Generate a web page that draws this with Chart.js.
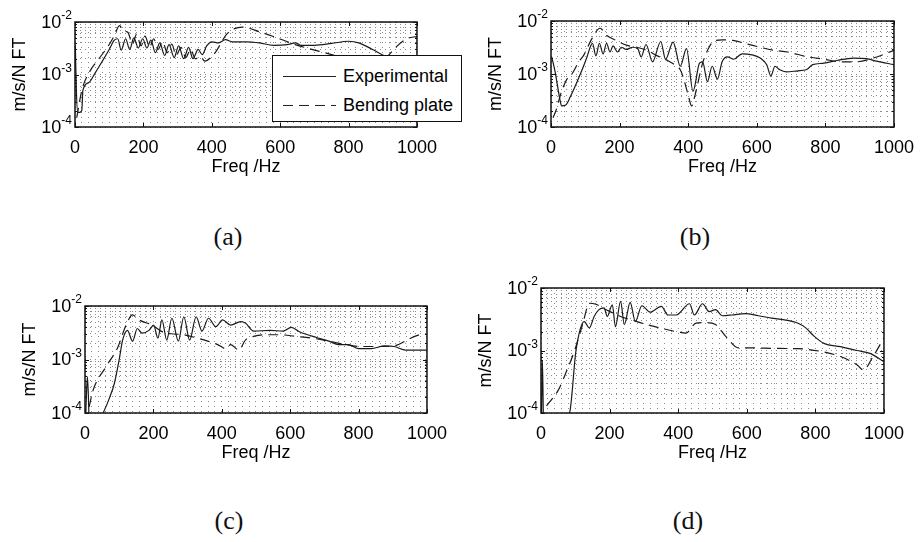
<!DOCTYPE html>
<html>
<head>
<meta charset="utf-8">
<script src="https://cdn.jsdelivr.net/npm/chart.js@4.4.1/dist/chart.umd.min.js"></script>
<style>
  html, body { margin: 0; padding: 0; background: #fff; }
  body { width: 924px; height: 542px; position: relative; overflow: hidden; font-family: "Liberation Sans", Arial, sans-serif; }
  canvas { position: absolute; }
  .cap { position: absolute; font-family: "Liberation Serif", serif; font-size: 26px; transform: translate(-50%, -50%); color: #111; }
  #legend { position: absolute; left: 272px; top: 55px; width: 190px; height: 67px; box-sizing: border-box;
            border: 1.5px solid #111; background: #fff; z-index: 2; font-size: 18px; color: #000; }
  #legend svg { position: absolute; left: 0; top: 0; }
  #legend span { position: absolute; left: 70px; line-height: 20px; }
</style>
</head>
<body>
<canvas id="pa"></canvas>
<canvas id="pb"></canvas>
<canvas id="pc"></canvas>
<canvas id="pd"></canvas>

<div id="legend">
  <svg width="190" height="67">
    <line x1="10" y1="20.5" x2="63" y2="20.5" stroke="#222" stroke-width="1.2"/>
    <line x1="10" y1="49.5" x2="63" y2="49.5" stroke="#222" stroke-width="1.2" stroke-dasharray="10 6"/>
  </svg>
  <span style="top:10px">Experimental</span>
  <span style="top:39px">Bending plate</span>
</div>

<div class="cap" style="left:228px; top:237px">(a)</div>
<div class="cap" style="left:695px; top:237px">(b)</div>
<div class="cap" style="left:229px; top:521px">(c)</div>
<div class="cap" style="left:688px; top:521px">(d)</div>

<script>
// ---- data ----
const yDecades = [-4, -3, -2];            // y tick labels 10^-4 .. 10^-2
const xLabels = [0, 200, 400, 600, 800, 1000];

// (a)
const aExpF = [1, 4, 8, 15, 20, 23, 40, 60, 80, 100, 115, 125, 135, 148, 160, 172, 185, 198, 210, 222, 235, 248, 262, 275, 290, 303, 318, 332, 345, 360, 372, 385, 400, 420, 440, 460, 500, 540, 580, 620, 645, 660, 700, 750, 800, 830, 870, 910, 950, 1000];
const aExp = [3.6e-3, 5e-4, 1.9e-4, 1.9e-4, 2.1e-4, 5e-4, 7e-4, 1.1e-3, 1.8e-3, 3.0e-3, 4.5e-3, 4.8e-3, 2.9e-3, 4.8e-3, 3.0e-3, 5.0e-3, 3.2e-3, 4.8e-3, 3.2e-3, 4.5e-3, 2.6e-3, 4.0e-3, 2.3e-3, 3.7e-3, 2.1e-3, 3.5e-3, 2.0e-3, 3.3e-3, 2.0e-3, 3.0e-3, 2.4e-3, 3.5e-3, 4.2e-3, 4.0e-3, 4.6e-3, 4.2e-3, 4.2e-3, 4.0e-3, 3.6e-3, 3.7e-3, 4.0e-3, 3.6e-3, 3.6e-3, 3.9e-3, 4.3e-3, 4.0e-3, 3.0e-3, 2.2e-3, 1.9e-3, 1.8e-3];
const aBendF = [5, 20, 45, 70, 96, 115, 130, 142, 155, 168, 180, 193, 205, 218, 230, 243, 256, 270, 283, 296, 310, 324, 338, 352, 366, 380, 400, 410, 445, 490, 540, 580, 640, 685, 740, 800, 860, 900, 940, 970, 1000];
const aBend = [1.5e-4, 5e-4, 1.2e-3, 2.0e-3, 3.4e-3, 5.5e-3, 8.5e-3, 6.8e-3, 6.3e-3, 3.8e-3, 5.8e-3, 3.5e-3, 5.4e-3, 3.3e-3, 4.8e-3, 3.0e-3, 4.2e-3, 2.6e-3, 3.8e-3, 2.3e-3, 3.3e-3, 2.1e-3, 3.0e-3, 2.0e-3, 2.2e-3, 1.8e-3, 2.2e-3, 2.6e-3, 6.0e-3, 8.0e-3, 6.5e-3, 5.3e-3, 3.8e-3, 3.1e-3, 2.5e-3, 1.9e-3, 1.4e-3, 1.8e-3, 3.4e-3, 4.8e-3, 5.3e-3];

// (b)
const bExpF = [2, 12, 26, 31, 43, 57, 81, 105, 115, 121, 131, 141, 152, 162, 172, 181, 194, 205, 219, 238, 253, 263, 277, 296, 320, 334, 356, 377, 395, 414, 433, 442, 456, 470, 485, 499, 514, 533, 557, 586, 610, 629, 641, 653, 667, 686, 720, 744, 763, 796, 834, 882, 920, 949, 1000];
const bExp = [2.1e-3, 1.1e-3, 3.3e-4, 2.5e-4, 2.6e-4, 3.8e-4, 8.5e-4, 2.1e-3, 3.3e-3, 3.8e-3, 2.2e-3, 3.8e-3, 2.4e-3, 3.8e-3, 2.6e-3, 3.4e-3, 2.6e-3, 3.2e-3, 2.9e-3, 3.2e-3, 3.0e-3, 2.1e-3, 3.6e-3, 1.7e-3, 4.1e-3, 1.9e-3, 4.0e-3, 1.4e-3, 3.0e-3, 4.7e-4, 1.6e-3, 1.7e-3, 7.2e-4, 1.4e-3, 8.0e-4, 1.7e-3, 2.1e-3, 1.9e-3, 2.4e-3, 2.3e-3, 2.0e-3, 1.5e-3, 9.2e-4, 1.4e-3, 1.2e-3, 1.1e-3, 1.15e-3, 1.2e-3, 1.5e-3, 1.6e-3, 1.8e-3, 2.0e-3, 1.95e-3, 1.75e-3, 1.5e-3];
const bBendF = [6, 14, 30, 46, 61, 81, 96, 119, 143, 162, 190, 220, 250, 280, 310, 340, 360, 377, 387, 400, 410, 420, 442, 461, 476, 499, 530, 585, 650, 690, 750, 796, 845, 890, 940, 1000];
const bBend = [1.5e-4, 2.0e-4, 4.5e-4, 7.9e-4, 1.0e-3, 1.7e-3, 2.3e-3, 4.6e-3, 7.3e-3, 5.4e-3, 4.3e-3, 3.5e-3, 3.2e-3, 2.8e-3, 2.2e-3, 1.8e-3, 1.5e-3, 1.2e-3, 8.0e-4, 4.0e-4, 2.5e-4, 4.0e-4, 1.6e-3, 3.2e-3, 4.2e-3, 4.4e-3, 4.3e-3, 3.5e-3, 2.8e-3, 2.6e-3, 2.1e-3, 1.9e-3, 1.7e-3, 1.7e-3, 2.0e-3, 2.8e-3];

// (c)
const cExpF = [1, 4, 7, 10, 13, 30, 53, 70, 86, 100, 110, 124, 139, 153, 167, 187, 201, 213, 225, 239, 254, 273, 289, 306, 325, 342, 361, 383, 402, 426, 455, 469, 493, 541, 579, 603, 627, 651, 675, 713, 742, 770, 799, 837, 876, 904, 938, 1000];
const cExp = [5e-5, 2e-4, 4.8e-4, 2e-4, 5e-5, 5e-5, 1.0e-4, 1.8e-4, 3.6e-4, 1.0e-3, 2.3e-3, 3.5e-3, 2.2e-3, 3.8e-3, 3.1e-3, 3.5e-3, 4.4e-3, 2.5e-3, 5.5e-3, 2.3e-3, 5.9e-3, 2.2e-3, 6.3e-3, 2.3e-3, 6.3e-3, 3.4e-3, 5.9e-3, 4.1e-3, 5.5e-3, 4.4e-3, 5.1e-3, 4.8e-3, 3.4e-3, 3.5e-3, 3.4e-3, 4.0e-3, 3.3e-3, 2.9e-3, 2.6e-3, 2.2e-3, 1.9e-3, 1.9e-3, 1.6e-3, 1.6e-3, 1.8e-3, 1.75e-3, 1.5e-3, 1.5e-3];
const cBendF = [12, 24, 62, 96, 120, 139, 158, 196, 230, 260, 290, 330, 359, 388, 411, 426, 450, 469, 493, 522, 569, 617, 665, 713, 761, 809, 856, 904, 952, 990];
const cBend = [1.3e-4, 2.7e-4, 7.4e-4, 1.7e-3, 4.4e-3, 6.8e-3, 5.5e-3, 4.4e-3, 3.2e-3, 3.0e-3, 2.9e-3, 2.5e-3, 2.2e-3, 1.9e-3, 1.6e-3, 1.9e-3, 1.5e-3, 2.3e-3, 2.7e-3, 2.9e-3, 2.9e-3, 2.7e-3, 2.5e-3, 2.2e-3, 1.9e-3, 1.75e-3, 1.75e-3, 1.8e-3, 2.5e-3, 3.1e-3];

// (d)
const dExpF = [1, 4, 8, 83, 102, 126, 141, 155, 169, 184, 193, 208, 217, 232, 243, 260, 275, 294, 318, 351, 370, 394, 433, 447, 471, 490, 509, 528, 557, 595, 634, 672, 710, 748, 772, 796, 825, 873, 921, 959, 1000];
const dExp = [5e-5, 7e-4, 5e-5, 1e-4, 1.0e-3, 2.9e-3, 2.3e-3, 3.5e-3, 4.5e-3, 4.8e-3, 3.5e-3, 5.4e-3, 2.4e-3, 6.1e-3, 2.6e-3, 5.9e-3, 2.9e-3, 5.2e-3, 4.1e-3, 5.1e-3, 3.7e-3, 3.7e-3, 5.6e-3, 3.7e-3, 5.6e-3, 4.2e-3, 4.5e-3, 3.6e-3, 3.7e-3, 3.9e-3, 3.6e-3, 3.3e-3, 3.1e-3, 2.75e-3, 2.3e-3, 1.7e-3, 1.3e-3, 1.15e-3, 1.0e-3, 9e-4, 6.6e-4];
const dBendF = [16, 33, 50, 74, 98, 122, 141, 160, 190, 232, 280, 308, 346, 394, 423, 452, 480, 509, 538, 576, 614, 681, 748, 815, 873, 921, 940, 968, 1000];
const dBend = [1.3e-4, 1.7e-4, 2.3e-4, 4.6e-4, 1.0e-3, 2.7e-3, 5.7e-3, 5.5e-3, 4.5e-3, 3.5e-3, 2.9e-3, 2.6e-3, 2.3e-3, 2.0e-3, 1.9e-3, 2.75e-3, 2.8e-3, 2.6e-3, 1.7e-3, 1.1e-3, 1.1e-3, 1.08e-3, 1.07e-3, 9.7e-4, 8e-4, 5.9e-4, 4.9e-4, 8e-4, 1.6e-3];

// ---- layout ----
const FONT = '"Liberation Sans", Arial, sans-serif';
const Y_AXIS_W = 75, X_AXIS_H = 60, PAD_TOP = 15, PAD_RIGHT = 24;

// grid positions
const xTicks = [];
for (let f = 0; f <= 1000; f += 20) xTicks.push(f);
const yTicks = [];
for (let e = -4; e <= -3; e++) for (let m = 1; m <= 9; m++) yTicks.push(m * Math.pow(10, e));
yTicks.push(1e-2);
const isDecade = v => Math.abs(Math.log10(v) - Math.round(Math.log10(v))) < 1e-6;

// box around plot + inward ticks, like matlab
const frame = {
  id: 'frame',
  afterDatasetsDraw(chart) {
    const { ctx, chartArea: a, scales: { x, y } } = chart;
    ctx.save();
    ctx.strokeStyle = '#111';
    ctx.lineWidth = 1.5;
    ctx.strokeRect(a.left, a.top, a.right - a.left, a.bottom - a.top);
    ctx.lineWidth = 1;
    ctx.beginPath();
    xLabels.forEach(v => {
      const px = Math.round(x.getPixelForValue(v)) + 0.5;
      ctx.moveTo(px, a.bottom); ctx.lineTo(px, a.bottom - 4);
      ctx.moveTo(px, a.top); ctx.lineTo(px, a.top + 4);
    });
    yTicks.forEach(v => {
      const py = Math.round(y.getPixelForValue(v)) + 0.5;
      const len = isDecade(v) ? 4 : 2;
      ctx.moveTo(a.left, py); ctx.lineTo(a.left + len, py);
      ctx.moveTo(a.right, py); ctx.lineTo(a.right - len, py);
    });
    ctx.stroke();
    ctx.restore();
  }
};

// 10^n labels with a raised exponent
const decadeLabels = {
  id: 'decadeLabels',
  afterDraw(chart) {
    const { ctx, chartArea: a, scales: { y } } = chart;
    ctx.save();
    ctx.fillStyle = '#000';
    ctx.textAlign = 'right';
    ctx.textBaseline = 'middle';
    yDecades.forEach(e => {
      const py = y.getPixelForValue(Math.pow(10, e));
      const ex = '-' + Math.abs(e);
      ctx.font = '12px ' + FONT;
      const w = ctx.measureText(ex).width;
      ctx.fillText(ex, a.left - 3, py - 6);
      ctx.font = '18px ' + FONT;
      ctx.fillText('10', a.left - 3 - w, py + 1);
    });
    ctx.restore();
  }
};

function pts(fs, vs) { return fs.map((f, i) => ({ x: f, y: vs[i] })); }

function panel(id, box, expF, exp, bendF, bend) {
  const cv = document.getElementById(id);
  cv.width = box.R - box.L + Y_AXIS_W + PAD_RIGHT;
  cv.height = box.B - box.T + PAD_TOP + X_AXIS_H;
  cv.style.left = (box.L - Y_AXIS_W) + 'px';
  cv.style.top = (box.T - PAD_TOP) + 'px';

  const gridColor = '#8a8a8a';
  new Chart(cv, {
    type: 'line',
    data: {
      datasets: [
        { label: 'Experimental', data: pts(expF, exp), borderColor: '#1a1a1a', borderWidth: 1.2,
          pointRadius: 0, cubicInterpolationMode: 'monotone', fill: false },
        { label: 'Bending plate', data: pts(bendF, bend), borderColor: '#1a1a1a', borderWidth: 1.2,
          borderDash: [10, 6], pointRadius: 0, cubicInterpolationMode: 'monotone', fill: false }
      ]
    },
    options: {
      responsive: false,
      animation: false,
      events: [],
      layout: { padding: { top: PAD_TOP, right: PAD_RIGHT, left: 0, bottom: 0 } },
      plugins: { legend: { display: false }, tooltip: { enabled: false } },
      scales: {
        x: {
          type: 'linear', min: 0, max: 1000,
          afterFit: s => { s.height = X_AXIS_H; },
          afterBuildTicks: s => { s.ticks = xTicks.map(v => ({ value: v })); },
          ticks: { autoSkip: false, maxRotation: 0, padding: 10, color: '#000',
                   font: { size: 18, family: FONT },
                   callback: v => xLabels.includes(v) ? String(v) : '' },
          grid: { color: gridColor, lineWidth: 1, drawTicks: false },
          border: { display: false, dash: [1, 4] },
          title: { display: true, text: 'Freq /Hz', color: '#000', font: { size: 18, family: FONT },
                   padding: { top: 0, bottom: 9 } }
        },
        y: {
          type: 'logarithmic', min: 1e-4, max: 1e-2,
          afterFit: s => { s.width = Y_AXIS_W; },
          afterBuildTicks: s => { s.ticks = yTicks.map(v => ({ value: v })); },
          ticks: { autoSkip: false, padding: 3, callback: () => '' },
          grid: { color: gridColor, lineWidth: 1, drawTicks: false },
          border: { display: false, dash: [1, 4] },
          title: { display: true, text: 'm/s/N FT', color: '#000', font: { size: 18, family: FONT },
                   padding: { top: 9, bottom: 0 } }
        }
      }
    },
    plugins: [frame, decadeLabels]
  });
}

panel('pa', { L: 75, T: 22, R: 423, B: 127 }, aExpF, aExp, aBendF, aBend);
panel('pb', { L: 551, T: 21, R: 900, B: 127 }, bExpF, bExp, bBendF, bBend);
panel('pc', { L: 85, T: 306, R: 433, B: 413 }, cExpF, cExp, cBendF, cBend);
panel('pd', { L: 541, T: 288, R: 890, B: 413 }, dExpF, dExp, dBendF, dBend);
</script>
</body>
</html>
